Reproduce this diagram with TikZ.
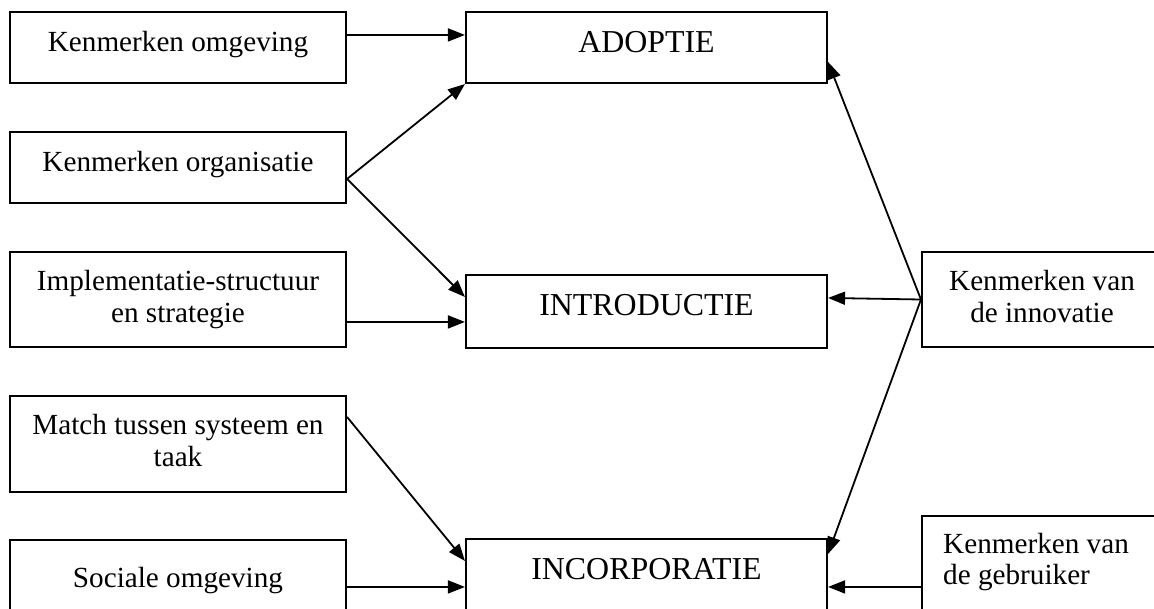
\documentclass[tikz,border=0pt]{standalone}
\usepackage{fontspec}
\setmainfont{Liberation Serif}
\usetikzlibrary{arrows.meta,calc}
\begin{document}
\begin{tikzpicture}[x=1pt,y=-1pt,
  box/.style={draw, line width=2.1pt, inner sep=0pt},
  lbl/.style={anchor=base, inner sep=0pt, font=\fontsize{29.2}{32}\selectfont},
  big/.style={anchor=base, inner sep=0pt, font=\fontsize{31.9}{32}\selectfont},
  link/.style={line width=1.8pt, -{Triangle[length=17pt,width=13pt]}}]

\useasboundingbox (0,0) rectangle (1154,608);
\clip (0,0) rectangle (1154,608);

% left column: factors
\node[box, minimum width=336pt, minimum height=71pt] (omg)   at (178,47.5)  {};
\node[box, minimum width=336pt, minimum height=71pt] (org)   at (178,167.5) {};
\node[box, minimum width=336pt, minimum height=95pt] (impl)  at (178,299.5) {};
\node[box, minimum width=336pt, minimum height=96pt] (match) at (178,444)   {};
\node[box, minimum width=336pt, minimum height=90pt] (soc)   at (178,585)   {};

% middle column: phases
\node[box, minimum width=361pt, minimum height=71pt] (adop)   at (646.5,47.5)  {};
\node[box, minimum width=361pt, minimum height=73pt] (intro)  at (646.5,311.5) {};
\node[box, minimum width=361pt, minimum height=76pt] (incorp) at (646.5,577)   {};

% right column
\node[box, minimum width=240pt, minimum height=95pt]  (innov) at (1042,299.5) {};
\node[box, minimum width=240pt, minimum height=114pt] (gebr)  at (1042,573)   {};

% texts
\node[lbl] (omg-t)   at (178,51)  {Kenmerken omgeving};
\node[lbl] (org-t)   at (178,171) {Kenmerken organisatie};
\node[lbl] (impl-t)  at (178,290) {\begin{tabular}[t]{@{}c@{}}Implementatie-structuur\\en strategie\end{tabular}};
\node[lbl] (match-t) at (178,434) {\begin{tabular}[t]{@{}c@{}}Match tussen systeem en\\taak\end{tabular}};
\node[lbl] (soc-t)   at (178,587) {Sociale omgeving};

\node[big] (adop-t)   at (646.5,52)  {ADOPTIE};
\node[big] (intro-t)  at (646.5,315) {INTRODUCTIE};
\node[big] (incorp-t) at (646.5,579) {INCORPORATIE};

\node[lbl] (innov-t) at (1042,290) {\begin{tabular}[t]{@{}c@{}}Kenmerken van\\de innovatie\end{tabular}};
\node[lbl, anchor=base west, font=\fontsize{29.2}{31.5}\selectfont] (gebr-t) at (943,553) {\begin{tabular}[t]{@{}l@{}}Kenmerken van\\de gebruiker\end{tabular}};

% connectors
\draw[link] ($(omg.north east)+(0,24)$) -- ($(adop.north west)+(0,24)$);
\draw[link] ($(org.north east)+(0,48)$) -- (adop.south west);
\draw[link] ($(org.north east)+(0,48)$) -- ($(intro.north west)+(0,23)$);
\draw[link] ($(impl.north east)+(0,71)$) -- ($(intro.north west)+(0,48)$);
\draw[link] ($(match.north east)+(0,22)$) -- ($(incorp.north west)+(0,23)$);
\draw[link] ($(soc.north east)+(0,48)$) -- ($(incorp.north west)+(0,49)$);

\draw[link] (innov.west) -- ($(intro.north east)+(0,24)$);
\draw[link] (innov.west) -- ($(adop.north east)+(0,51)$);
\draw[link] (innov.west) -- ($(incorp.north east)+(0,16)$);
\draw[link] ($(gebr.north west)+(0,72)$) -- ($(incorp.north east)+(0,49)$);
\end{tikzpicture}
\end{document}
